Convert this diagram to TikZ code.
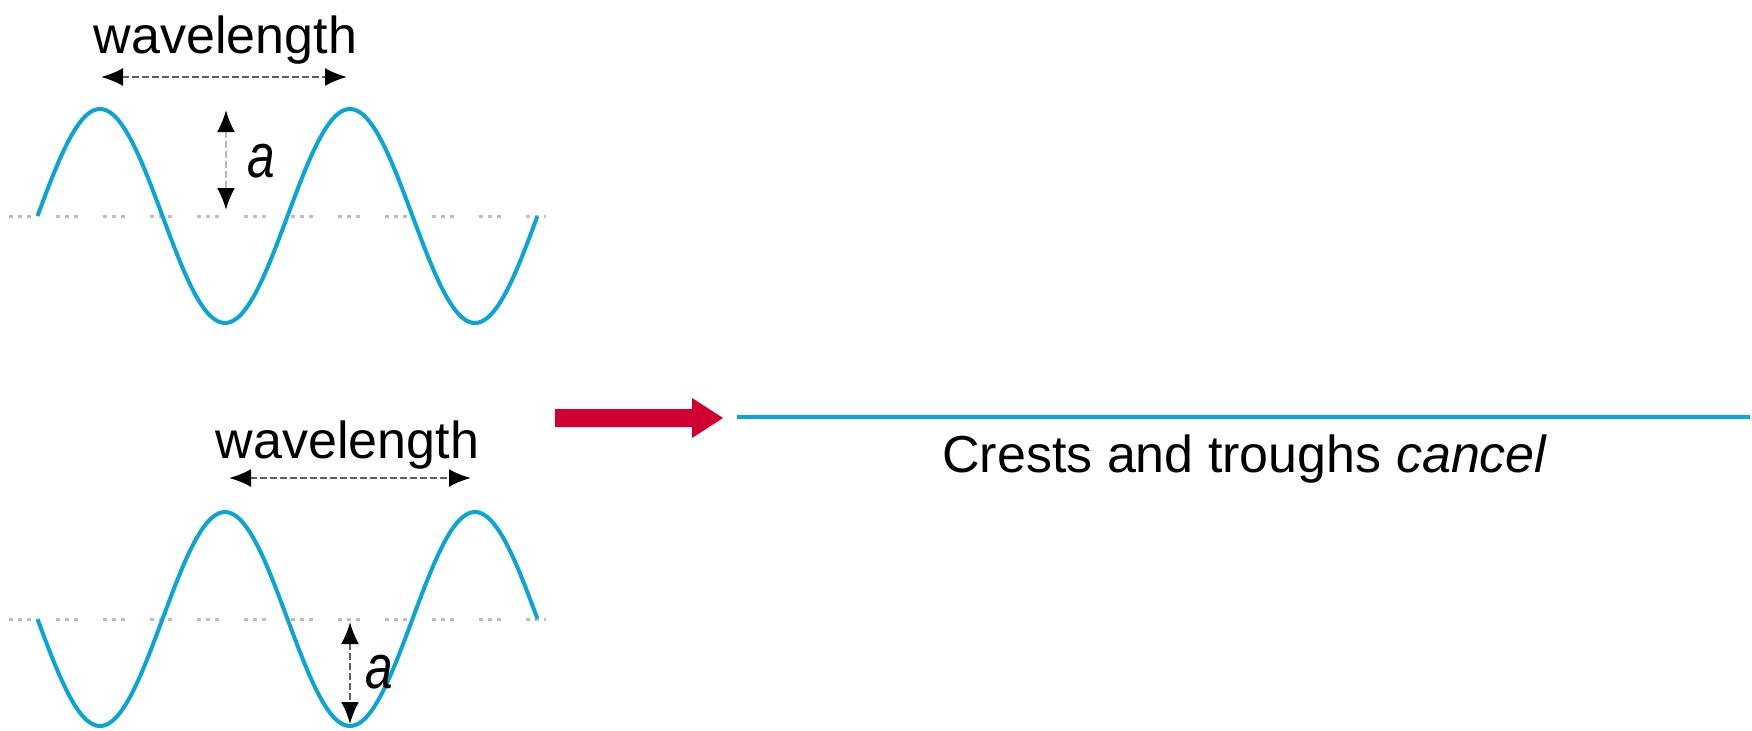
\documentclass[tikz,border=0pt]{standalone}
\usepackage{fontspec}
\usepackage{graphicx}
\setmainfont{Liberation Sans}
\usetikzlibrary{arrows.meta}
\definecolor{wavecol}{RGB}{10,165,215}
\definecolor{arrred}{RGB}{208,0,50}
\definecolor{dimgray}{RGB}{95,95,95}
\definecolor{lightshaft}{RGB}{185,185,185}
\definecolor{dotgray}{RGB}{190,190,190}
\begin{document}
\begin{tikzpicture}[x=0.5pt,y=-0.5pt,
  wave/.style={draw=wavecol,line width=2pt,line join=round},
  baseline dots/.style={draw=dotgray,line width=1.5pt,dash pattern=on 2pt off 2.5pt on 2pt off 2.5pt on 2pt off 12.5pt},
  dimarrow/.style={draw=dimgray,line width=1.2pt,dash pattern=on 3.5pt off 1.5pt,
     {Latex[length=11pt,width=9pt,black]}-{Latex[length=11pt,width=9pt,black]}},
  lbl/.style={font=\fontsize{26}{30}\selectfont,inner sep=0pt},
  amp/.style={font=\fontsize{31}{34}\selectfont\itshape,inner sep=0pt}]
\useasboundingbox (0,0) rectangle (1752,730);

% ---- top wave ----
\coordinate (b1s) at (9,216);
\coordinate (b1e) at (546,216);
\draw[baseline dots] (b1s) -- (b1e);
\draw[wave] plot[domain=0:2,samples=161,smooth] ({37.5+250*\x},{216-107*sin(360*\x)});

\node[lbl,anchor=base] (w1t) at (225.5,53) {wavelength};
\coordinate (w1l) at (101,77);
\coordinate (w1r) at (347,77);
\draw[dimarrow] (w1l) -- (w1r);

\coordinate (a1t) at (226,110);
\coordinate (a1b) at (226,210);
\draw[dimarrow,draw=lightshaft] (a1t) -- (a1b);
\node[amp,anchor=base west] (a1) at (247,177) {\scalebox{0.8}[1]{a}};

% ---- bottom wave ----
\coordinate (b2s) at (9,619);
\coordinate (b2e) at (546,619);
\draw[baseline dots] (b2s) -- (b2e);
\draw[wave] plot[domain=0:2,samples=161,smooth] ({37.5+250*\x},{619+107*sin(360*\x)});

\node[lbl,anchor=base] (w2t) at (347.5,458) {wavelength};
\coordinate (w2l) at (229,478);
\coordinate (w2r) at (471,478);
\draw[dimarrow] (w2l) -- (w2r);

\coordinate (a2t) at (350,622);
\coordinate (a2b) at (350,724);
\draw[dimarrow] (a2t) -- (a2b);
\node[amp,anchor=base west] (a2) at (365,688) {\scalebox{0.8}[1]{a}};

% ---- red arrow ----
\fill[arrred] (555,409) -- (692,409) -- (692,398) -- (723,418) -- (692,438) -- (692,427) -- (555,427) -- cycle;

% ---- resulting flat wave ----
\coordinate (c1) at (737,417);
\coordinate (c2) at (1750,417);
\draw[wave] (c1) -- (c2);
\node[lbl,anchor=base] (res) at (1245,472) {Crests and troughs \textit{cancel}};
\end{tikzpicture}
\end{document}
